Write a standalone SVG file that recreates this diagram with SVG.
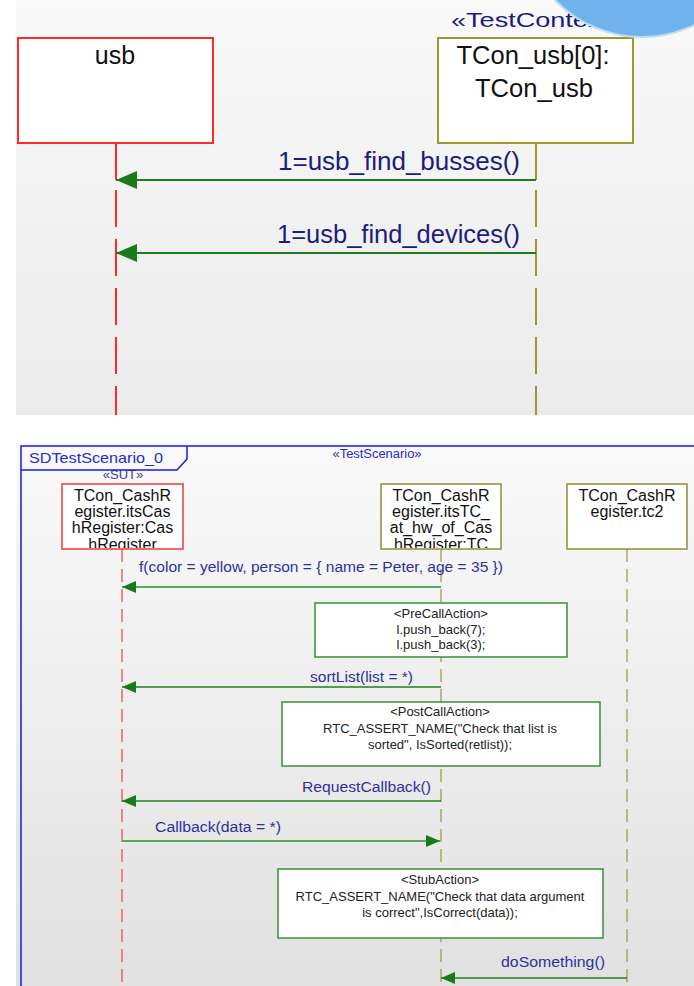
<svg xmlns="http://www.w3.org/2000/svg" width="694" height="986" viewBox="0 0 694 986">
<style>
.nm{font-family:"Liberation Sans",Arial,sans-serif;fill:#111;text-anchor:middle}
.lbl{font-family:"Liberation Sans",Arial,sans-serif;fill:#1c1c7c}
.lbl2{font-family:"Liberation Sans",Arial,sans-serif;fill:#30309a;font-size:15.5px}
.act{font-family:"Liberation Sans",Arial,sans-serif;fill:#222;font-size:13px;text-anchor:middle}
.boxr{fill:#fff;stroke:#ff2a2a;stroke-width:2}
.boxo{fill:#fff;stroke:#999933;stroke-width:2}
.edger{fill:none;stroke:#ee3a3a;stroke-width:1.5}
.edgeo{fill:none;stroke:#8f8f33;stroke-width:1.5}
.boxo2{fill:#fff;stroke:#8f8f33;stroke-width:1.5}
.actbox{fill:#fff;stroke:#3a8f3a;stroke-width:1.5}
.msg{stroke:#1e7a1e;stroke-width:2;fill:none}
.msg2{stroke:#207f20;stroke-width:1.5;fill:none}
.msg2l{stroke:#5fa55f;stroke-width:1.8;fill:none}
.frame{stroke:#1a1ae0;stroke-width:1.5;fill:none}
</style>
<defs>
<linearGradient id="bg1" x1="0" y1="0" x2="0" y2="1">
<stop offset="0" stop-color="#f9f9f9"/><stop offset="1" stop-color="#ebebeb"/>
</linearGradient>
<linearGradient id="bg2" x1="0" y1="0" x2="0" y2="1">
<stop offset="0" stop-color="#fafafa"/><stop offset="1" stop-color="#e1e1e1"/>
</linearGradient>
<marker id="ahBig" viewBox="0 -9 21 18" markerWidth="21" markerHeight="18" refX="21" refY="0" orient="auto" markerUnits="userSpaceOnUse">
<path d="M0,-9 L21,0 L0,9 z" fill="#1a7a1a"/>
</marker>
<marker id="ahSm" viewBox="0 -6 14 12" markerWidth="14" markerHeight="12" refX="14" refY="0" orient="auto" markerUnits="userSpaceOnUse">
<path d="M0,-6 L14,0 L0,6 z" fill="#1a7a1a"/>
</marker>
<clipPath id="c1"><rect x="62" y="484" width="121" height="64"/></clipPath>
<clipPath id="c2"><rect x="381" y="484" width="120" height="64"/></clipPath>
</defs>

<rect x="0" y="0" width="694" height="986" fill="#fff"/>
<rect x="16" y="0" width="678" height="415" fill="url(#bg1)"/>
<rect x="16" y="443" width="678" height="543" fill="url(#bg2)"/>

<!-- top panel -->
<g id="lifelines-top">
<line x1="116" y1="143" x2="116" y2="180" stroke="#ff2a2a" stroke-width="2"/>
<line x1="116" y1="190" x2="116" y2="415" stroke="#ff2a2a" stroke-width="2" stroke-dasharray="37 12"/>
<line x1="536" y1="143" x2="536" y2="180" stroke="#999933" stroke-width="2"/>
<line x1="536" y1="190" x2="536" y2="415" stroke="#999933" stroke-width="2" stroke-dasharray="37 12"/>
</g>
<g id="usb">
<rect class="boxr" x="18" y="38" width="195" height="105"/>
<text class="nm" x="115" y="64" font-size="25">usb</text>
</g>
<g id="tcon_usb">
<text class="lbl" x="451" y="27" font-size="20" fill="#2a2a9a" textLength="173" lengthAdjust="spacingAndGlyphs">«TestContext»</text>
<rect class="boxo" x="438" y="38" width="195" height="105"/>
<text class="nm" x="533" y="64" font-size="25" textLength="153" lengthAdjust="spacingAndGlyphs">TCon_usb[0]:</text>
<text class="nm" x="534" y="97" font-size="25" textLength="118" lengthAdjust="spacingAndGlyphs">TCon_usb</text>
</g>
<circle cx="642" cy="-84" r="122" fill="#bcdcf6"/>
<circle cx="642" cy="-84" r="120" fill="#70b2ec"/>
<g id="connectors-top">
<line class="msg" x1="536" y1="180" x2="116" y2="180" marker-end="url(#ahBig)"/>
<text class="lbl" x="520" y="170" font-size="26" text-anchor="end" textLength="242" lengthAdjust="spacingAndGlyphs">1=usb_find_busses()</text>
<line class="msg" x1="536" y1="253" x2="116" y2="253" marker-end="url(#ahBig)"/>
<text class="lbl" x="520" y="243" font-size="26" text-anchor="end" textLength="243" lengthAdjust="spacingAndGlyphs">1=usb_find_devices()</text>
</g>

<!-- bottom panel -->
<g id="frame">
<path class="frame" d="M21,986 V446 H694"/>
<text x="377" y="458" font-family="Liberation Sans,Arial,sans-serif" font-size="12" fill="#2828c8" text-anchor="middle" textLength="89" lengthAdjust="spacingAndGlyphs">«TestScenario»</text>
<text x="123" y="479" font-family="Liberation Sans,Arial,sans-serif" font-size="13" fill="#3a3aa8" text-anchor="middle">«SUT»</text>
<path class="frame" d="M21,470 H177 L187,459 V446"/>
<text x="29" y="463" font-family="Liberation Sans,Arial,sans-serif" font-size="15" fill="#2a2ad0" textLength="134" lengthAdjust="spacingAndGlyphs">SDTestScenario_0</text>
</g>
<g id="lifelines-bottom">
<line x1="122" y1="549" x2="122" y2="986" stroke="#f04040" stroke-width="1.2" stroke-dasharray="13 7"/>
<line x1="441" y1="549" x2="441" y2="986" stroke="#999933" stroke-width="1.2" stroke-dasharray="13 7"/>
<line x1="627" y1="549" x2="627" y2="986" stroke="#999933" stroke-width="1.2" stroke-dasharray="13 7"/>
</g>
<g id="sut">
<rect x="62" y="484" width="121" height="65" fill="#fff"/>
<g clip-path="url(#c1)" class="nm" font-size="16">
<text x="122.5" y="501">TCon_CashR</text>
<text x="122.5" y="517">egister.itsCas</text>
<text x="122.5" y="533">hRegister:Cas</text>
<text x="122.5" y="550">hRegister</text>
</g>
<rect class="edger" x="62" y="484" width="121" height="65"/>
</g>
<g id="tc_hw">
<rect x="381" y="484" width="120" height="65" fill="#fff"/>
<g clip-path="url(#c2)" class="nm" font-size="16">
<text x="441" y="501">TCon_CashR</text>
<text x="441" y="517">egister.itsTC_</text>
<text x="441" y="533">at_hw_of_Cas</text>
<text x="441" y="550">hRegister:TC</text>
</g>
<rect class="edgeo" x="381" y="484" width="120" height="65"/>
</g>
<g id="tc2">
<rect class="boxo2" x="567" y="484" width="120" height="65"/>
<text class="nm" x="627" y="501" font-size="16">TCon_CashR</text>
<text class="nm" x="627" y="517" font-size="16">egister.tc2</text>
</g>
<g id="precall">
<rect class="actbox" x="315" y="603" width="252" height="54"/>
<text class="act" x="441" y="618">&lt;PreCallAction&gt;</text>
<text class="act" x="441" y="634">l.push_back(7);</text>
<text class="act" x="441" y="649">l.push_back(3);</text>
</g>
<g id="postcall">
<rect class="actbox" x="282" y="702" width="318" height="64"/>
<text class="act" x="440" y="716">&lt;PostCallAction&gt;</text>
<text class="act" x="440" y="733">RTC_ASSERT_NAME("Check that list is</text>
<text class="act" x="440" y="749">sorted", IsSorted(retlist));</text>
</g>
<g id="stub">
<rect class="actbox" x="278" y="869" width="325" height="69"/>
<text class="act" x="440" y="884">&lt;StubAction&gt;</text>
<text class="act" x="440" y="901">RTC_ASSERT_NAME("Check that data argument</text>
<text class="act" x="440" y="917">is correct",IsCorrect(data));</text>
</g>
<g id="connectors-bottom">
<line class="msg2l" x1="441" y1="587" x2="122" y2="587" marker-end="url(#ahSm)"/>
<text class="lbl2" x="139" y="572" textLength="364" lengthAdjust="spacingAndGlyphs">f(color = yellow, person = { name = Peter, age = 35 })</text>
<line class="msg2" x1="441" y1="687" x2="122" y2="687" marker-end="url(#ahSm)"/>
<text class="lbl2" x="413" y="682" text-anchor="end" textLength="103" lengthAdjust="spacingAndGlyphs">sortList(list = *)</text>
<line class="msg2" x1="441" y1="801" x2="122" y2="801" marker-end="url(#ahSm)"/>
<text class="lbl2" x="431" y="792" text-anchor="end" textLength="129" lengthAdjust="spacingAndGlyphs">RequestCallback()</text>
<line class="msg2l" x1="122" y1="841" x2="440" y2="841" marker-end="url(#ahSm)"/>
<text class="lbl2" x="155" y="832" textLength="126" lengthAdjust="spacingAndGlyphs">Callback(data = *)</text>
<line class="msg2" x1="627" y1="978" x2="441" y2="978" marker-end="url(#ahSm)"/>
<text class="lbl2" x="605" y="967" text-anchor="end" textLength="104" lengthAdjust="spacingAndGlyphs">doSomething()</text>
</g>
</svg>
